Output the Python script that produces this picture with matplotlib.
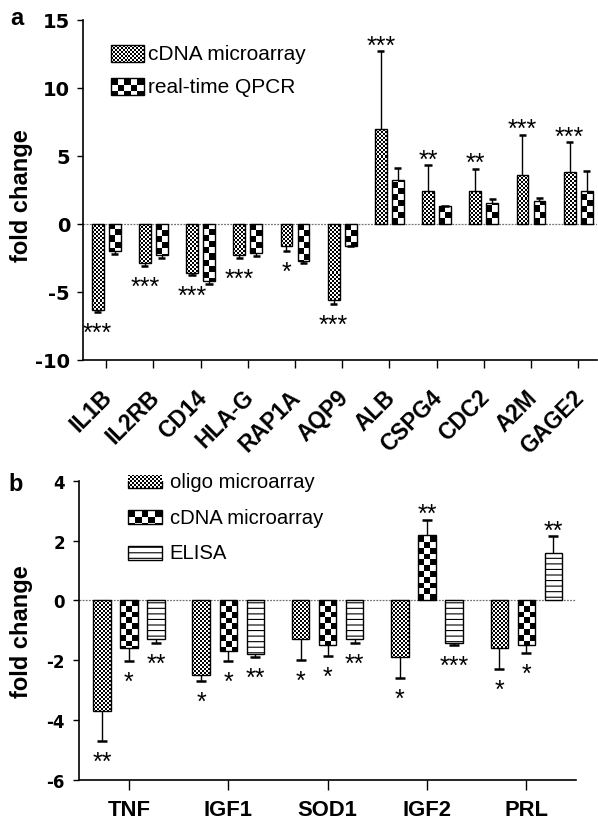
import numpy as np
import matplotlib
matplotlib.use('Agg')
import matplotlib.pyplot as plt
from matplotlib.patches import Rectangle
from matplotlib.transforms import ScaledTranslation

plt.rcParams['font.family'] = ['Liberation Sans', 'DejaVu Sans']
plt.rcParams['hatch.linewidth'] = 0.8

# ---------------- data: panel a ----------------
genes_a = ['IL1B', 'IL2RB', 'CD14', 'HLA-G', 'RAP1A', 'AQP9',
           'ALB', 'CSPG4', 'CDC2', 'A2M', 'GAGE2']
micro_a = [-6.35, -2.85, -3.6, -2.3, -1.6, -5.6, 7.0, 2.4, 2.4, 3.6, 3.8]
micro_a_err = [0.1, 0.28, 0.15, 0.22, 0.42, 0.3, 5.7, 1.9, 1.65, 2.95, 2.2]
qpcr_a = [-2.0, -2.25, -4.2, -2.12, -2.7, -1.6, 3.2, 1.3, 1.5, 1.7, 2.4]
qpcr_a_err = [0.22, 0.22, 0.23, 0.25, 0.2, 0.05, 0.9, 0.05, 0.3, 0.2, 1.45]
stars_a = ['***', '***', '***', '***', '*', '***', '***', '**', '**', '***', '***']
yticks_a = [-10, -5, 0, 5, 10, 15]
legend_a = ['cDNA microarray', 'real-time QPCR']

# ---------------- data: panel b ----------------
genes_b = ['TNF', 'IGF1', 'SOD1', 'IGF2', 'PRL']
oligo_b = [-3.7, -2.5, -1.3, -1.9, -1.6]
oligo_b_err = [1.0, 0.2, 0.68, 0.7, 0.7]
cdna_b = [-1.6, -1.69, -1.5, 2.2, -1.5]
cdna_b_err = [0.42, 0.34, 0.37, 0.5, 0.26]
elisa_b = [-1.3, -1.8, -1.3, -1.41, 1.6]
elisa_b_err = [0.11, 0.1, 0.11, 0.07, 0.54]
stars_b_oligo = ['**', '*', '*', '*', '*']
stars_b_cdna = ['*', '*', '*', '**', '*']
stars_b_elisa = ['**', '**', '**', '***', '**']
yticks_b = [-6, -4, -2, 0, 2, 4]
legend_b = ['oligo microarray', 'cDNA microarray', 'ELISA']

W, H = 598, 820
fig = plt.figure(figsize=(W / 100, H / 100), dpi=100)
NUMFONT = ['DejaVu Sans']


def px_axes(l, r, t, b):
    return fig.add_axes([l / W, 1 - b / H, (r - l) / W, (b - t) / H])


def scale(ax):
    pos = ax.get_position()
    x0, x1 = ax.get_xlim()
    y0, y1 = ax.get_ylim()
    return pos.width * W / (x1 - x0), pos.height * H / (y1 - y0)


def px2data(ax, x, y):
    return ax.transData.inverted().transform((x, H - y))


def checker(ax, xl, width, ybase, yend, cell, clip):
    sx, sy = scale(ax)
    ncol = max(1, int(round(width * sx / cell)))
    nrow = max(1, int(np.ceil(abs(yend - ybase) * sy / cell)))
    ch = cell / sy
    arr = (np.add.outer(np.arange(nrow), np.arange(ncol)) % 2).astype(float)
    if yend < ybase:
        ext = (xl, xl + width, ybase - nrow * ch, ybase)
        origin = 'upper'
    else:
        ext = (xl, xl + width, ybase, ybase + nrow * ch)
        origin = 'lower'
    im = ax.imshow(arr, cmap='gray', vmin=0, vmax=1, extent=ext, origin=origin,
                   interpolation='nearest', aspect='auto', zorder=3)
    im.set_clip_path(clip)


def style_axes(ax):
    for s in ['top', 'right']:
        ax.spines[s].set_visible(False)
    for s in ['left', 'bottom']:
        ax.spines[s].set_linewidth(1.2)
    ax.axhline(0, color='0.45', lw=0.9, ls=(0, (1.5, 1)), zorder=2)


def draw_series(ax, xs, vals, errs, width, cell, capw, hatch=None):
    if hatch is None:
        bars = ax.bar(xs, vals, width, facecolor='none', edgecolor='black',
                      lw=1, zorder=4)
        for b, v in zip(bars, vals):
            checker(ax, b.get_x(), b.get_width(), 0, v, cell, b)
    else:
        bars = ax.bar(xs, vals, width, facecolor='white', edgecolor='black',
                      lw=1, hatch=hatch, zorder=4)
    ends = []
    for x, v, e in zip(xs, vals, errs):
        end = v + np.sign(v) * e
        ax.plot([x, x], [v, end], color='black', lw=1, zorder=3.5,
                solid_capstyle='butt')
        ax.plot([x - capw / 2, x + capw / 2], [end, end], color='black',
                lw=1.8, zorder=3.5, solid_capstyle='butt')
        ends.append(end)
    return ends


def put_stars(ax, xs, ends, labels, fs):
    for x, e, s in zip(xs, ends, labels):
        off = -20.0 if e < 0 else -1.0
        ax.annotate(s, (x, e), xytext=(0, off), textcoords='offset points',
                    ha='center', va='baseline', fontsize=fs, zorder=5)


# ======================= panel a =======================
axA = px_axes(83, 597, 20.7, 361)
axA.set_xlim(-0.49, 10.4)
axA.set_ylim(-10, 15)
style_axes(axA)
xa = np.arange(len(genes_a))
wa = 0.25
offa = 0.18
ends_m = draw_series(axA, xa - offa, micro_a, micro_a_err, wa, 2, wa * 0.6)
ends_q = draw_series(axA, xa + offa, qpcr_a, qpcr_a_err, wa, 6, wa * 0.6)
put_stars(axA, xa - offa, ends_m, stars_a, 18)

axA.set_yticks(yticks_a, labels=[str(t) for t in yticks_a],
               fontsize=14, fontweight='bold', family=NUMFONT)
axA.set_xticks(xa, labels=genes_a, rotation=45, ha='right', va='center',
               rotation_mode='anchor', fontsize=16.3, fontweight='bold')
axA.tick_params(axis='y', length=4.3, width=1, pad=5)
axA.tick_params(axis='x', length=6, width=1, pad=18)
for lbl in axA.get_xticklabels():
    lbl.set_transform(lbl.get_transform() +
                      ScaledTranslation(0.025, 0, fig.dpi_scale_trans))
axA.set_ylabel('fold change', fontsize=17, fontweight='bold')
axA.yaxis.set_label_coords(-0.097, 0.485)

# legend a
for i, (lab, cell) in enumerate(zip(legend_a, [2, 6.6])):
    yc = 54.5 + i * 33
    (x0, y0) = px2data(axA, 111, yc + 8.5)
    (x1, y1) = px2data(axA, 144, yc - 8.5)
    r = Rectangle((x0, y0), x1 - x0, y1 - y0, facecolor='none',
                  edgecolor='black', lw=1, zorder=4)
    axA.add_patch(r)
    checker(axA, x0, x1 - x0, y1, y0, cell, r)
    tx, ty = px2data(axA, 148.5, yc)
    axA.text(tx, ty, lab, fontsize=15, va='center', ha='left')

# ======================= panel b =======================
axB = px_axes(79.3, 576, 481.7, 781)
axB.set_xlim(-0.5, 4.5)
axB.set_ylim(-6, 4)
style_axes(axB)
xb = np.arange(len(genes_b))
wb = 0.177
offb = 0.272
ends_o = draw_series(axB, xb - offb, oligo_b, oligo_b_err, wb, 2, 0.1)
ends_c = draw_series(axB, xb, cdna_b, cdna_b_err, wb, 5.8, 0.1)
ends_e = draw_series(axB, xb + offb, elisa_b, elisa_b_err, wb, None, 0.1,
                     hatch='---')
put_stars(axB, xb - offb, ends_o, stars_b_oligo, 18)
put_stars(axB, xb, ends_c, stars_b_cdna, 18)
put_stars(axB, xb + offb, ends_e, stars_b_elisa, 18)

axB.set_yticks(yticks_b, labels=[str(t) for t in yticks_b],
               fontsize=12, fontweight='bold', family=NUMFONT)
axB.set_xticks(xb, labels=genes_b, fontsize=15.8, fontweight='bold')
axB.tick_params(axis='y', length=4.3, width=1, pad=6)
axB.tick_params(axis='x', length=7.5, width=1, pad=6)
axB.set_ylabel('fold change', fontsize=17, fontweight='bold')
axB.yaxis.set_label_coords(-0.093, 0.5)

# legend b
for i, lab in enumerate(legend_b):
    yc = 482.5 + i * 35.7
    (x0, y0) = px2data(axB, 128.5, yc + 7)
    (x1, y1) = px2data(axB, 162, yc - 7)
    if i < 2:
        r = Rectangle((x0, y0), x1 - x0, y1 - y0, facecolor='none',
                      edgecolor='black', lw=1, zorder=4)
        axB.add_patch(r)
        checker(axB, x0, x1 - x0, y1, y0, [2, 6.7][i], r)
    else:
        r = Rectangle((x0, y0), x1 - x0, y1 - y0, facecolor='white',
                      edgecolor='black', lw=1, hatch='---', zorder=4)
        axB.add_patch(r)
    tx, ty = px2data(axB, 169.5, yc)
    axB.text(tx, ty, lab, fontsize=14.6, va='center', ha='left')

fig.text(10 / W, 1 - 25 / H, 'a', fontsize=17, fontweight='bold')
fig.text(8 / W, 1 - 491 / H, 'b', fontsize=17, fontweight='bold')

fig.savefig('out.png', dpi=100)
